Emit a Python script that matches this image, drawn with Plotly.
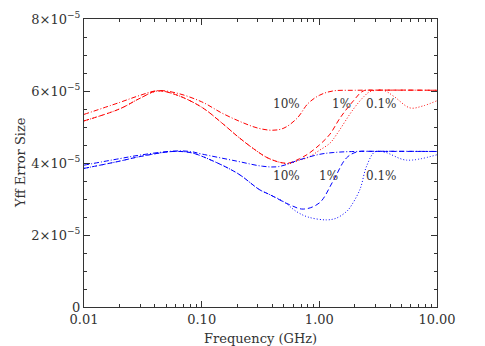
import numpy as np
import plotly.graph_objects as go

# ---- data (values in units of 1e-5) ----
red_10_f = [0.01, 0.02, 0.03, 0.042, 0.06, 0.1, 0.15, 0.22, 0.3, 0.4, 0.5, 0.65, 0.8, 1.0, 1.3, 2.0, 10]
red_10_v = [5.35, 5.68, 5.88, 6.01, 5.95, 5.70, 5.38, 5.13, 4.97, 4.91, 4.97, 5.25, 5.65, 5.88, 6.0, 6.02, 6.02]

red_1_f = [0.01, 0.02, 0.03, 0.042, 0.06, 0.1, 0.15, 0.2, 0.275, 0.36, 0.46, 0.55, 0.68, 0.8, 1.0, 1.23, 1.5, 1.94, 2.36, 3.0, 10]
red_1_v = [5.17, 5.50, 5.80, 6.00, 5.90, 5.55, 5.10, 4.75, 4.40, 4.15, 4.02, 4.00, 4.12, 4.25, 4.50, 4.80, 5.25, 5.72, 6.00, 6.02, 6.02]

red_01_f = [0.01, 0.02, 0.03, 0.042, 0.06, 0.1, 0.15, 0.2, 0.275, 0.36, 0.46, 0.55, 0.68, 0.8, 1.0, 1.23, 1.4, 1.94, 2.4, 2.69, 3.5, 4.3, 5.9, 7.5, 10]
red_01_v = [5.17, 5.50, 5.80, 6.00, 5.90, 5.55, 5.10, 4.75, 4.40, 4.15, 4.02, 3.98, 4.08, 4.15, 4.35, 4.55, 4.79, 5.49, 5.85, 5.98, 6.02, 5.85, 5.53, 5.58, 5.73]

blue_10_f = [0.01, 0.02, 0.03, 0.057, 0.08, 0.1, 0.2, 0.33, 0.45, 0.68, 1.0, 1.31, 2.0, 10]
blue_10_v = [3.94, 4.12, 4.22, 4.33, 4.32, 4.25, 4.05, 3.91, 3.90, 4.09, 4.24, 4.29, 4.32, 4.32]

blue_1_f = [0.01, 0.02, 0.03, 0.057, 0.08, 0.1, 0.2, 0.31, 0.38, 0.56, 0.73, 1.0, 1.31, 1.7, 2.1, 3.0, 10]
blue_1_v = [3.85, 4.05, 4.18, 4.32, 4.29, 4.19, 3.72, 3.26, 3.12, 2.84, 2.72, 2.89, 3.50, 4.14, 4.31, 4.32, 4.32]

blue_01_f = [0.01, 0.02, 0.03, 0.057, 0.08, 0.1, 0.2, 0.31, 0.38, 0.5, 0.64, 0.8, 1.15, 1.4, 1.7, 1.82, 2.21, 2.52, 2.97, 3.6, 5.5, 10]
blue_01_v = [3.85, 4.05, 4.18, 4.32, 4.29, 4.19, 3.72, 3.26, 3.12, 2.92, 2.65, 2.50, 2.42, 2.47, 2.65, 2.76, 3.26, 3.91, 4.31, 4.30, 4.08, 4.23]

x_tickvals = [0.01, 0.1, 1, 10]
x_ticktext = ["0.01", "0.10", "1.00", "10.00"]
y_tickvals = [0, 2, 4, 6, 8]
y_ticktext = ["0", "2×10<sup>−5</sup>", "4×10<sup>−5</sup>", "6×10<sup>−5</sup>", "8×10<sup>−5</sup>"]

label_text = ["10%", "1%", "0.1%", "10%", "1%", "0.1%"]
label_f = [0.527, 1.55, 3.38, 0.527, 1.20, 3.38]
label_v = [5.65, 5.65, 5.65, 3.63, 3.63, 3.63]

SCALE = 1e-5
RED = "#ff0000"
BLUE = "#0000ff"
DASHDOT = "5px,2px,1px,2px"
DASH = "5px,3px"
DOT = "1px,2px"

series = [
    (red_10_f, red_10_v, RED, DASHDOT),
    (red_1_f, red_1_v, RED, DASH),
    (red_01_f, red_01_v, RED, DOT),
    (blue_10_f, blue_10_v, BLUE, DASHDOT),
    (blue_1_f, blue_1_v, BLUE, DASH),
    (blue_01_f, blue_01_v, BLUE, DOT),
]

fig = go.Figure()
for f, v, c, d in series:
    fig.add_trace(go.Scatter(
        x=f, y=np.array(v) * SCALE, mode="lines",
        line=dict(color=c, width=1, dash=d, shape="spline", smoothing=1.0),
        showlegend=False, hoverinfo="skip"))

FONT = "DejaVu Serif, Liberation Serif, serif"
TXT = "#333333"
FS = 13
for t, f, v in zip(label_text, label_f, label_v):
    fig.add_annotation(x=np.log10(f), y=v * SCALE, text=t, showarrow=False,
                       font=dict(family=FONT, size=12, color=TXT))

# axis titles as paper-anchored annotations
fig.add_annotation(xref="paper", yref="paper", x=0.5, y=-0.109, text="Frequency (GHz)",
                   showarrow=False, xanchor="center", yanchor="middle",
                   font=dict(family=FONT, size=FS, color=TXT))
fig.add_annotation(xref="paper", yref="paper", x=-0.181, y=0.5, text="Yff Error Size",
                   textangle=-90, showarrow=False, xanchor="center", yanchor="middle",
                   font=dict(family=FONT, size=FS, color=TXT))

# page body has an 8px margin: size/margins compensate so the plot box sits at (84..437, 19..307)
fig.update_layout(
    width=477, height=338,
    margin=dict(l=76, r=48, t=11, b=39),
    paper_bgcolor="white", plot_bgcolor="white",
    font=dict(family=FONT, size=FS, color=TXT),
)
fig.update_xaxes(
    type="log", range=[-2, 1], automargin=False,
    tickvals=x_tickvals, ticktext=x_ticktext,
    tickfont=dict(family=FONT, size=FS, color=TXT),
    ticks="inside", ticklen=6, tickcolor=TXT, tickwidth=1,
    minor=dict(ticks="inside", ticklen=3, tickcolor=TXT, dtick="D1", showgrid=False),
    showline=True, linecolor=TXT, linewidth=1, mirror="allticks",
    showgrid=False, zeroline=False,
)
fig.update_yaxes(
    range=[0, 8 * SCALE], automargin=False,
    tickvals=[v * SCALE for v in y_tickvals], ticktext=y_ticktext,
    tickfont=dict(family=FONT, size=FS, color=TXT),
    ticks="inside", ticklen=6, tickcolor=TXT, tickwidth=1,
    minor=dict(ticks="inside", ticklen=3, tickcolor=TXT, dtick=0.5 * SCALE, tick0=0, showgrid=False),
    showline=True, linecolor=TXT, linewidth=1, mirror="allticks",
    showgrid=False, zeroline=False,
)

fig.write_html("out.html")
